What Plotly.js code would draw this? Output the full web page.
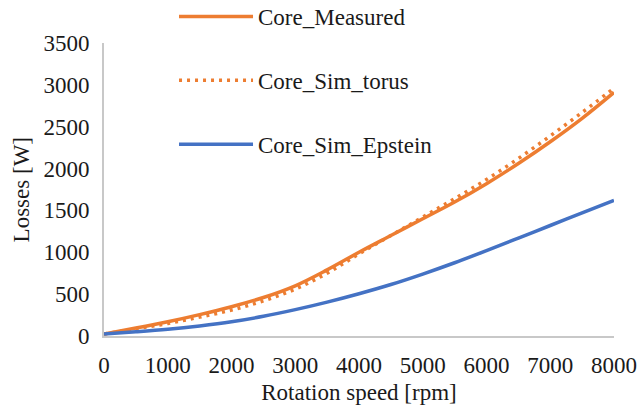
<!DOCTYPE html>
<html>
<head>
<meta charset="utf-8">
<script src="https://cdn.plot.ly/plotly-3.0.1.min.js"></script>
<style>
  html, body { margin: 0; padding: 0; background: #ffffff; }
  #chart { width: 642px; height: 411px; }
</style>
</head>
<body>
<div id="chart"></div>
<script>
// Rotation speed [rpm]
const speed = [0, 500, 1000, 1500, 2000, 2500, 3000, 3500, 4000, 4500, 5000, 5500, 6000, 6500, 7000, 7500, 8000];

// Core losses [W]
const coreMeasured = [25, 95, 170, 255, 350, 460, 600, 790, 1000, 1200, 1400, 1600, 1820, 2060, 2320, 2600, 2910];
const coreSimTorus = [25, 85, 150, 225, 310, 420, 560, 750, 980, 1200, 1420, 1640, 1870, 2120, 2390, 2670, 2960];
const coreSimEpstein = [25, 50, 80, 120, 170, 235, 315, 405, 505, 615, 740, 875, 1020, 1170, 1320, 1470, 1620];

const xTicks = [0, 1000, 2000, 3000, 4000, 5000, 6000, 7000, 8000];
const yTicks = [0, 500, 1000, 1500, 2000, 2500, 3000, 3500];

const ORANGE = '#ED7D31';
const BLUE = '#4472C4';
const SERIF = '"Liberation Serif", "Times New Roman", serif';
const TEXT = '#1a1a1a';
const FS = 23;

const traces = [
  {
    x: speed, y: coreMeasured, name: 'Core_Measured', legendgroup: 'm',
    mode: 'lines', line: { color: ORANGE, width: 3.5, shape: 'spline', smoothing: 1 }
  },
  {
    x: speed, y: coreSimTorus, name: 'Core_Sim_torus', legendgroup: 't',
    mode: 'lines', line: { color: ORANGE, width: 3.5, dash: '3px,5px', shape: 'spline', smoothing: 1 }
  },
  {
    x: speed, y: coreSimEpstein, name: 'Core_Sim_Epstein', legendgroup: 'e',
    mode: 'lines', line: { color: BLUE, width: 3.5, shape: 'spline', smoothing: 1 }
  }
];

const layout = {
  width: 642,
  height: 411,
  margin: { l: 104, r: 28, t: 43, b: 75, autoexpand: false },
  paper_bgcolor: '#ffffff',
  plot_bgcolor: '#ffffff',
  font: { family: SERIF, size: FS, color: TEXT },
  showlegend: true,
  legend: {
    xref: 'paper', yref: 'paper',
    x: 0.1373, y: 1.164, xanchor: 'left', yanchor: 'top',
    traceorder: 'grouped', tracegroupgap: 31,
    itemwidth: 74,
    bgcolor: 'rgba(0,0,0,0)',
    font: { family: SERIF, size: FS, color: TEXT }
  },
  xaxis: {
    range: [0, 8000],
    tickvals: xTicks,
    ticktext: xTicks.map(String),
    tickangle: 0,
    showgrid: false, zeroline: false,
    showline: true, linecolor: '#c8c8c8', linewidth: 2,
    ticks: '', ticklabelstandoff: 7,
    tickfont: { family: SERIF, size: FS, color: TEXT },
    title: { text: 'Rotation speed [rpm]', font: { family: SERIF, size: FS, color: TEXT }, standoff: 7 }
  },
  yaxis: {
    range: [0, 3500],
    tickvals: yTicks,
    ticktext: yTicks.map(String),
    showgrid: false, zeroline: false,
    showline: true, linecolor: '#c8c8c8', linewidth: 2,
    ticks: '', ticklabelstandoff: 8,
    tickfont: { family: SERIF, size: FS, color: TEXT }
  },
  // Vertical axis title placed beside the tick labels
  annotations: [{
    text: 'Losses [W]',
    xref: 'paper', yref: 'paper',
    x: -0.161, y: 0.5, xanchor: 'center', yanchor: 'middle',
    textangle: -90, showarrow: false,
    font: { family: SERIF, size: FS, color: TEXT }
  }]
};

Plotly.newPlot('chart', traces, layout, { displayModeBar: false, staticPlot: true });
</script>
</body>
</html>
